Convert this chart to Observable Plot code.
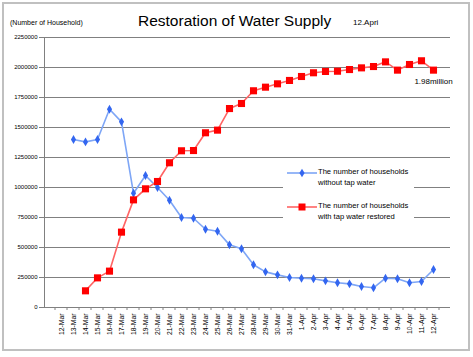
<!DOCTYPE html>
<html>
<head>
<meta charset="utf-8">
<script src="https://cdn.jsdelivr.net/npm/d3@7"></script>
<script src="https://cdn.jsdelivr.net/npm/@observablehq/plot@0.6"></script>
<style>
  html, body { margin: 0; padding: 0; background: #fff; }
  #wrap { position: relative; width: 473px; height: 357px; font-family: "Liberation Sans", Arial, sans-serif; overflow: hidden; }
  #wrap svg.plot { position: absolute; left: 0; top: 0; }
  .border { position: absolute; left: 2px; top: 2px; width: 464px; height: 345px; border: 2px solid #c0c0c0; pointer-events: none; }
  .title { position: absolute; left: 138px; top: 12px; font-size: 15.5px; white-space: nowrap; color: #000; }
  .date { position: absolute; left: 353px; top: 18px; font-size: 8px; white-space: nowrap; }
  .unit { position: absolute; left: 10px; top: 19px; font-size: 7px; white-space: nowrap; }
  .legend { position: absolute; left: 283px; top: 163px; width: 131px; height: 60px; background: #fff; }
  .legend .lt { position: absolute; left: 35px; font-size: 7.6px; line-height: 10.5px; white-space: nowrap; }
</style>
</head>
<body>
<div id="wrap"></div>
<script>
const categories = ["12-Mar","13-Mar","14-Mar","15-Mar","16-Mar","17-Mar","18-Mar","19-Mar","20-Mar","21-Mar","22-Mar","23-Mar","24-Mar","25-Mar","26-Mar","27-Mar","28-Mar","29-Mar","30-Mar","31-Mar","1-Apr","2-Apr","3-Apr","4-Apr","5-Apr","6-Apr","7-Apr","8-Apr","9-Apr","10-Apr","11-Apr","12-Apr"];
const withoutTap = [null,1400000,1380000,1400000,1652000,1547000,952000,1100000,1000000,894000,750000,744000,652000,636000,522000,489000,356000,297000,272000,250000,244000,239000,222000,206000,197000,175000,164000,244000,239000,206000,217000,317000];
const restored = [null,null,139000,247000,303000,628000,897000,989000,1050000,1206000,1306000,1308000,1456000,1478000,1658000,1700000,1806000,1836000,1864000,1892000,1925000,1956000,1967000,1969000,1983000,1997000,2008000,2047000,1978000,2025000,2056000,1978000];
const yTicks = [0,250000,500000,750000,1000000,1250000,1500000,1750000,2000000,2250000];
const seriesNames = ["The number of households\nwithout tap water", "The number of households\nwith tap water restored"];
const lastLabel = "1.98million";

const blueRows = categories.map((c, i) => ({cat: c, v: withoutTap[i]})).filter(d => d.v != null);
const redRows = categories.map((c, i) => ({cat: c, v: restored[i]})).filter(d => d.v != null);

function boundaryTicks(index, scales, values, dimensions) {
  const x = scales.x, bw = x.bandwidth ? x.bandwidth() : 0;
  const g = d3.create("svg:g");
  const yb = dimensions.height - dimensions.marginBottom;
  const xs = categories.map(c => x(c));
  xs.push(xs[xs.length - 1] + bw);
  for (const px of xs) {
    g.append("line").attr("x1", px).attr("x2", px).attr("y1", yb).attr("y2", yb + 3)
      .attr("stroke", "#808080").attr("stroke-width", 1);
  }
  return g.node();
}

const chart = Plot.plot({
  width: 473,
  height: 357,
  marginTop: 37,
  marginBottom: 50,
  marginLeft: 44,
  marginRight: 23,
  style: {fontFamily: "Liberation Sans, Arial, sans-serif", background: "transparent", overflow: "visible"},
  x: {type: "band", domain: categories, padding: 0, label: null},
  y: {domain: [0, 2250000], label: null},
  marks: [
    Plot.gridY(yTicks.filter(t => t > 0), {stroke: "#808080", strokeOpacity: 1, strokeWidth: 1}),
    Plot.ruleY([0], {stroke: "#808080", strokeWidth: 1}),
    Plot.frame({anchor: "left", stroke: "#808080", strokeWidth: 1}),
    Plot.axisY({ticks: yTicks, tickFormat: d => String(d), tickSize: 5, tickPadding: 2, fontSize: 6, stroke: "#808080", color: "#000"}),
    Plot.axisX({tickSize: 0, tickRotate: -90, tickPadding: 6, fontSize: 6.8, color: "#000"}),
    boundaryTicks,
    Plot.line(blueRows, {x: "cat", y: "v", stroke: "#7ea6f6", strokeWidth: 1.6}),
    Plot.dot(blueRows, {x: "cat", y: "v", symbol: "diamond", r: 2.7, fill: "#3366f0", stroke: "none"}),
    Plot.line(redRows, {x: "cat", y: "v", stroke: "#ff6464", strokeWidth: 1.6}),
    Plot.dot(redRows, {x: "cat", y: "v", symbol: "square", r: 4, fill: "#ff0000", stroke: "none"}),
    Plot.text(redRows.slice(-1), {x: "cat", y: "v", text: () => lastLabel, dy: 11, fontSize: 8, fill: "#000"})
  ]
});
chart.classList.add("plot");

const wrap = document.getElementById("wrap");
wrap.appendChild(chart);

const add = (cls, html) => { const d = document.createElement("div"); d.className = cls; d.innerHTML = html; wrap.appendChild(d); return d; };
add("title", "Restoration of Water Supply");
add("date", "12.Apri");
add("unit", "(Number of Household)");

const legend = add("legend", "");
legend.innerHTML = `
<svg width="131" height="60" style="position:absolute;left:0;top:0">
  <line x1="4" x2="34" y1="10" y2="10" stroke="#7ea6f6" stroke-width="1.6"/>
  <path d="M19,5.8 L21.6,10 L19,14.2 L16.4,10 Z" fill="#3366f0"/>
  <line x1="4" x2="34" y1="44" y2="44" stroke="#ff6464" stroke-width="1.6"/>
  <rect x="15.5" y="40.5" width="7" height="7" fill="#ff0000"/>
</svg>
<div class="lt" style="top:4px">${seriesNames[0].replace("\n", "<br>")}</div>
<div class="lt" style="top:38px">${seriesNames[1].replace("\n", "<br>")}</div>`;

add("border", "");
</script>
</body>
</html>
